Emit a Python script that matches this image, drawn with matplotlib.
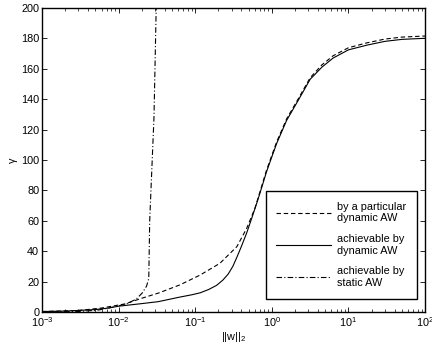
import numpy as np
import matplotlib
matplotlib.use('Agg')
import matplotlib.pyplot as plt

plt.rcParams['font.family'] = ['Liberation Sans', 'DejaVu Sans']
plt.rcParams['mathtext.fontset'] = 'custom'
plt.rcParams['mathtext.rm'] = 'Liberation Sans'
plt.rcParams['mathtext.it'] = 'Liberation Sans:italic'

# values
w_dyn = [0.001, 0.002, 0.005, 0.0074, 0.01, 0.02, 0.033, 0.063, 0.09, 0.116, 0.15, 0.19,
         0.23, 0.27, 0.31, 0.35, 0.4, 0.47, 0.55, 0.65, 0.75, 0.85, 1.0, 1.16, 1.56,
         2.2, 3.16, 4.5, 6.3, 10, 17.4, 30, 50, 100]
g_dyn = [0.3, 0.6, 1.6, 2.6, 3.8, 5.5, 6.8, 9.8, 11.3, 12.6, 14.8, 17.5,
         21, 25, 30, 36, 43, 52, 62, 73, 83, 92, 102, 111, 126,
         139, 153, 161, 167, 172.4, 175.5, 178, 179.3, 180]

w_part = [0.001, 0.003, 0.006, 0.0121, 0.02, 0.0334, 0.063, 0.116, 0.21, 0.35, 0.47,
          0.6, 0.7, 0.85, 1.0, 1.16, 1.56, 2.2, 3.16, 4.5, 6.3, 10, 17.4, 30, 50, 100]
g_part = [0.3, 1.0, 2.6, 5.3, 9.0, 12.5, 17.8, 24.3, 32, 43, 55,
          68, 79, 93, 103, 112, 127, 140, 154, 162.5, 168.5, 173.8, 177, 179.5, 180.8, 181.5]

w_stat = [0.001, 0.003, 0.0055, 0.009, 0.013, 0.017, 0.0204, 0.0232, 0.0248, 0.0255, 0.029, 0.031]
g_stat = [0.0, 0.3, 1.3, 3.5, 5.5, 8.5, 12.5, 17, 22, 60, 128, 200]

labels = ['by a particular\ndynamic AW', 'achievable by\ndynamic AW',
          'achievable by\nstatic AW']

fig = plt.figure(figsize=(4.32, 3.43), dpi=100)
ax = fig.add_axes([0.097, 0.0904, 0.887, 0.8866])

ax.plot(w_part, g_part, color='black', linestyle=(0, (4, 2.5)), linewidth=0.8, label=labels[0])
ax.plot(w_dyn, g_dyn, color='black', linestyle='-', linewidth=0.8, label=labels[1])
ax.plot(w_stat, g_stat, color='black', linestyle=(0, (5, 2, 1, 2)), linewidth=0.8, label=labels[2])

ax.set_xscale('log')
ax.set_xlim(1e-3, 1e2)
ax.set_ylim(0, 200)
ax.set_yticks(np.arange(0, 201, 20))
ax.tick_params(which='both', direction='in', top=True, right=True, labelsize=7.8, pad=2)
ax.tick_params(which='major', length=3.5, width=0.6)
ax.tick_params(which='minor', length=2, width=0.5)
for s in ax.spines.values():
    s.set_linewidth(1.0)

ax.set_xlabel('||w||$_2$', fontsize=7.8, labelpad=1)
ax.set_ylabel('γ', fontsize=7.8, labelpad=2)

leg = ax.legend(loc='lower right', bbox_to_anchor=(0.979, 0.043), borderaxespad=0,
                fontsize=7.8, fancybox=False, framealpha=1, handlelength=5.0,
                labelspacing=1.0, borderpad=1.0, handletextpad=0.6)
leg.get_frame().set_edgecolor('black')
leg.get_frame().set_linewidth(1.0)

fig.savefig('out.png', dpi=100)
